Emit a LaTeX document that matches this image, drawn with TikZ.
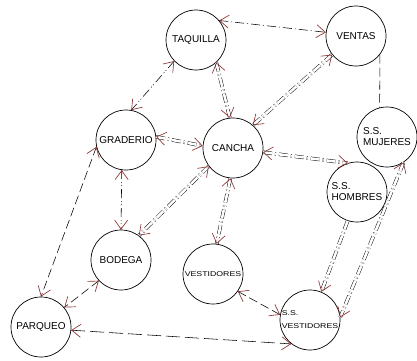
\documentclass[tikz,border=0pt]{standalone}
\usepackage{fontspec}
\setmainfont{Liberation Sans}
\usetikzlibrary{arrows.meta}
\definecolor{arrred}{RGB}{140,50,50}
\newcommand{\lnk}[4]{\draw[#1] (#2) -- (#3); \draw[#4] (#2) -- (#3);}
\newcommand{\vst}[1]{\scalebox{1.25}[1]{\fontsize{7}{8}\selectfont #1}}
\begin{document}
\begin{tikzpicture}[x=1pt,y=1pt,
  place/.style={circle, draw, line width=0.7pt, minimum size=60pt, inner sep=0pt,
    font=\fontsize{10}{12}\selectfont, align=left},
  >={Straight Barb[length=9pt,width=13pt,line width=0.65pt,color=arrred]},
  both/.style={<->, line width=0.65pt, dash pattern=on 0pt off 3000pt},
  fwd/.style={->, line width=0.65pt, dash pattern=on 0pt off 3000pt},
  dd/.style={double, double distance=2.6pt, line width=0.45pt,
    dash pattern=on 9pt off 3pt on 1pt off 3pt},
  ddot/.style={line width=0.55pt, dash pattern=on 9pt off 3pt on 1pt off 3pt},
  ddot2/.style={line width=0.55pt, dash pattern=on 9pt off 3pt on 1pt off 2pt on 1pt off 3pt},
  dsh/.style={line width=0.55pt, dash pattern=on 9pt off 4pt},
  ldsh/.style={line width=0.55pt, dash pattern=on 14pt off 5pt}]
\useasboundingbox (0,0) rectangle (417,360);
\fill[white] (0,0) rectangle (417,360);
\node[place] (taq) at (196,320) {TAQUILLA};
\node[place] (ven) at (356,324) {VENTAS};
\node[place] (gra) at (126,220) {GRADERIO};
\node[place] (can) at (233,212) {CANCHA};
\node[place] (muj) at (387,223) {S.S.\\[-1pt]MUJERES};
\node[place] (hom) at (357,168) {S.S.\\[-1pt]HOMBRES};
\node[place] (bod) at (121,100) {BODEGA};
\node[place] (ves) at (213,86) {\vst{VESTIDORES}};
\node[place] (par) at (41,33) {PARQUEO};
\node[place] (ssv) at (310,40) {\vst{S.S.}\\[1pt]\vst{VESTIDORES}};
\lnk{ddot}{taq.40}{ven.173}{both}
\lnk{ddot2}{taq.224}{gra.80}{both}
\lnk{dd}{taq.-48}{can.96}{both}
\lnk{dd}{ven.218}{can.49}{both}
\draw[dsh] (ven.-38) -- (muj.104);
\lnk{dd}{gra.6}{can.176}{both}
\lnk{dd}{can.-8}{hom.108}{both}
\lnk{dd}{can.217}{bod.54}{both}
\lnk{dd}{can.-95}{ves.83}{both}
\lnk{ddot2}{gra.-98}{bod.90}{both}
\lnk{dsh}{gra.193}{par.90}{both}
\lnk{dsh}{bod.223}{par.40}{both}
\lnk{ldsh}{par.-6}{ssv.232}{both}
\lnk{dsh}{ves.-35}{ssv.170}{both}
\lnk{dd}{hom.-108}{ssv.68}{fwd}
\lnk{dd}{muj.-57}{ssv.5}{both}
\end{tikzpicture}
\end{document}
